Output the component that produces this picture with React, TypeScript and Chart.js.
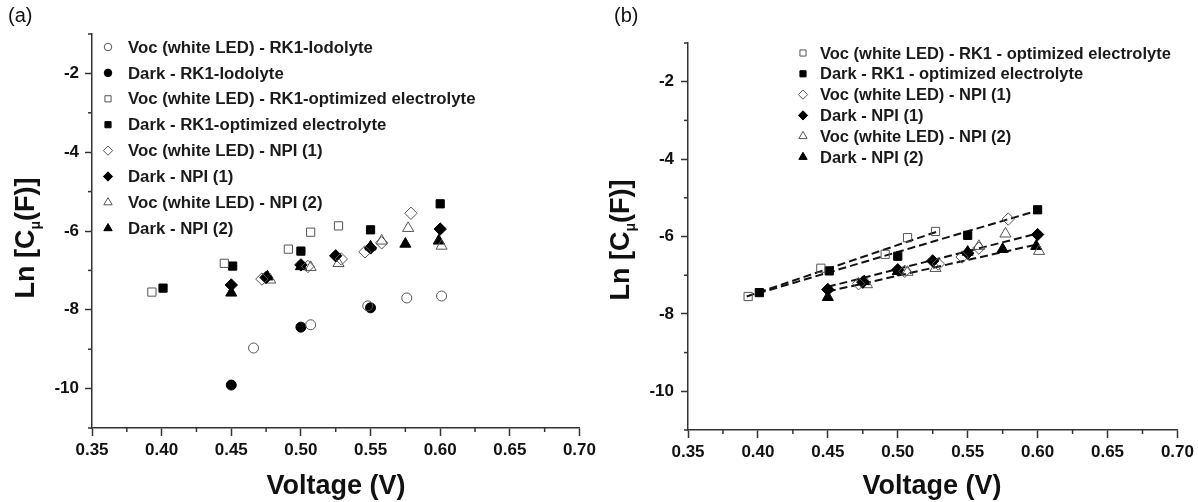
import React, { useEffect, useRef } from "react";
import { Chart, registerables } from "chart.js";

Chart.register(...registerables);

// ---------- tick values ----------
const xTickValues = [0.35, 0.4, 0.45, 0.5, 0.55, 0.6, 0.65, 0.7];
const xMinorTickValues = [0.375, 0.425, 0.475, 0.525, 0.575, 0.625, 0.675];
const yTickValues = [-2, -4, -6, -8, -10];
const yMinorTickValues = [-1, -3, -5, -7, -9, -11];

// ---------- series data ----------
const vocIodolyteX = [0.466, 0.507, 0.548, 0.576, 0.601];
const vocIodolyteY = [-8.97, -8.38, -7.9, -7.7, -7.65];

const darkIodolyteX = [0.45, 0.5, 0.55];
const darkIodolyteY = [-9.91, -8.44, -7.95];

const vocOptX = [0.393, 0.445, 0.491, 0.507, 0.527];
const vocOptY = [-7.55, -6.82, -6.46, -6.03, -5.87];

const darkOptX = [0.401, 0.451, 0.5, 0.55, 0.6];
const darkOptY = [-7.45, -6.89, -6.51, -5.97, -5.31];

const vocNpi1X = [0.472, 0.505, 0.529, 0.546, 0.558, 0.579];
const vocNpi1Y = [-7.22, -6.9, -6.71, -6.53, -6.3, -5.55];

const darkNpi1X = [0.45, 0.475, 0.5, 0.525, 0.55, 0.6];
const darkNpi1Y = [-7.37, -7.18, -6.86, -6.63, -6.43, -5.95];

const vocNpi2X = [0.478, 0.507, 0.527, 0.558, 0.577, 0.601];
const vocNpi2Y = [-7.24, -6.92, -6.82, -6.25, -5.93, -6.38];

const darkNpi2X = [0.45, 0.476, 0.5, 0.55, 0.575, 0.599];
const darkNpi2Y = [-7.57, -7.16, -6.9, -6.4, -6.33, -6.25];

// dashed fit lines in panel (b): end points
const fitVocOptX = [0.392, 0.53];
const fitVocOptY = [-7.55, -5.85];
const fitDarkOptX = [0.4, 0.6];
const fitDarkOptY = [-7.47, -5.33];
const fitNpi1X = [0.45, 0.6];
const fitNpi1Y = [-7.3, -5.92];
const fitNpi2X = [0.45, 0.6];
const fitNpi2Y = [-7.42, -6.2];

// ---------- labels ----------
const labelsA = [
  "Voc (white LED) - RK1-Iodolyte",
  "Dark - RK1-Iodolyte",
  "Voc (white LED) - RK1-optimized electrolyte",
  "Dark - RK1-optimized electrolyte",
  "Voc (white LED) - NPI (1)",
  "Dark - NPI (1)",
  "Voc (white LED) - NPI (2)",
  "Dark - NPI (2)",
];
const labelsB = [
  "Voc (white LED) - RK1 - optimized electrolyte",
  "Dark - RK1 - optimized electrolyte",
  "Voc (white LED) - NPI (1)",
  "Dark - NPI (1)",
  "Voc (white LED) - NPI (2)",
  "Dark - NPI (2)",
];

type Shape = "circle" | "rect" | "rectRot" | "triangle";
type SeriesDef = { label: string; xs: number[]; ys: number[]; shape: Shape; filled: boolean };

const OPEN_COLOR = "#555555";
const FILL_COLOR = "#000000";
const TEXT_COLOR = "#111111";
const AXIS_COLOR = "#333333";
const FONT = "'Liberation Sans', Arial, sans-serif";

const radiusFor = (shape: Shape) =>
  shape === "circle" ? 5 : shape === "rect" ? 5.8 : shape === "rectRot" ? 6.2 : 6.4;

function toPoints(xs: number[], ys: number[]) {
  return xs.map((x, i) => ({ x, y: ys[i] }));
}

function drawMarker(ctx: CanvasRenderingContext2D, shape: Shape, filled: boolean, x: number, y: number, r: number) {
  ctx.save();
  ctx.beginPath();
  if (shape === "circle") {
    ctx.arc(x, y, r, 0, Math.PI * 2);
  } else if (shape === "rect") {
    const s = r * Math.SQRT1_2;
    ctx.rect(x - s, y - s, 2 * s, 2 * s);
  } else if (shape === "rectRot") {
    ctx.moveTo(x, y - r);
    ctx.lineTo(x + r, y);
    ctx.lineTo(x, y + r);
    ctx.lineTo(x - r, y);
    ctx.closePath();
  } else {
    const h = r * Math.sqrt(3) / 2;
    ctx.moveTo(x, y - r);
    ctx.lineTo(x + h, y + r / 2);
    ctx.lineTo(x - h, y + r / 2);
    ctx.closePath();
  }
  if (filled) {
    ctx.fillStyle = FILL_COLOR;
    ctx.fill();
  }
  ctx.lineWidth = 1;
  ctx.strokeStyle = filled ? FILL_COLOR : OPEN_COLOR;
  ctx.stroke();
  ctx.restore();
}

type PanelCfg = {
  series: SeriesDef[];
  fits: { xs: number[]; ys: number[] }[];
  yAxisWidth: number;
  xAxisHeight: number;
  padTop: number;
  padRight: number;
  yTickPad: number;
  legendMarkerX: number;
  legendTextX: number;
  legendY0: number;
  legendDy: number;
  legendFont: number;
  legendMarkerScale: number;
  xTitleX: number;
  xTitleY: number;
  yTitleX: number;
  yTitleY: number;
  panelLabel: string;
  panelLabelX: number;
  panelLabelY: number;
};

function makeChart(canvas: HTMLCanvasElement, cfg: PanelCfg) {
  const datasets: any[] = cfg.series.map((s) => ({
    label: s.label,
    data: toPoints(s.xs, s.ys),
    showLine: false,
    pointStyle: s.shape,
    pointRadius: radiusFor(s.shape),
    pointHoverRadius: radiusFor(s.shape),
    pointBorderWidth: 1,
    pointBackgroundColor: s.filled ? FILL_COLOR : "rgba(0,0,0,0)",
    pointBorderColor: s.filled ? FILL_COLOR : OPEN_COLOR,
    order: 1,
  }));
  cfg.fits.forEach((f, i) => {
    datasets.push({
      label: "fit" + i,
      data: toPoints(f.xs, f.ys),
      showLine: true,
      pointRadius: 0,
      borderColor: "#111111",
      borderWidth: 2,
      borderDash: [8, 4],
      fill: false,
      order: 2,
    });
  });

  const decorPlugin = {
    id: "decor",
    afterDraw(chart: any) {
      const ctx: CanvasRenderingContext2D = chart.ctx;
      const xs = chart.scales.x;
      const ys = chart.scales.y;
      const area = chart.chartArea;
      ctx.save();
      // minor ticks
      ctx.strokeStyle = AXIS_COLOR;
      ctx.lineWidth = 1.5;
      xMinorTickValues.forEach((v) => {
        const px = xs.getPixelForValue(v);
        ctx.beginPath();
        ctx.moveTo(px, area.bottom);
        ctx.lineTo(px, area.bottom + 4);
        ctx.stroke();
      });
      yMinorTickValues.forEach((v) => {
        const py = ys.getPixelForValue(v);
        ctx.beginPath();
        ctx.moveTo(area.left, py);
        ctx.lineTo(area.left - 4, py);
        ctx.stroke();
      });
      // legend
      ctx.font = `bold ${cfg.legendFont}px ${FONT}`;
      ctx.textBaseline = "middle";
      ctx.textAlign = "left";
      cfg.series.forEach((s, i) => {
        const y = cfg.legendY0 + i * cfg.legendDy;
        drawMarker(ctx, s.shape, s.filled, cfg.legendMarkerX, y, radiusFor(s.shape) * cfg.legendMarkerScale);
        ctx.fillStyle = "#1a1a1a";
        ctx.fillText(s.label, cfg.legendTextX, y + 1);
      });
      // x title
      ctx.font = `bold 27px ${FONT}`;
      ctx.textAlign = "center";
      ctx.fillStyle = TEXT_COLOR;
      ctx.fillText("Voltage (V)", cfg.xTitleX, cfg.xTitleY);
      // y title: Ln [C μ (F)]
      ctx.translate(cfg.yTitleX, cfg.yTitleY);
      ctx.rotate(-Math.PI / 2);
      const big = `bold 27px ${FONT}`;
      const small = `bold 14px ${FONT}`;
      const p1 = "Ln [C";
      const p2 = "\u03bc";
      const p3 = "(F)]";
      ctx.font = big;
      const w1 = ctx.measureText(p1).width;
      const w3 = ctx.measureText(p3).width;
      ctx.font = small;
      const w2 = ctx.measureText(p2).width;
      const total = w1 + w2 + w3;
      let cx = -total / 2;
      ctx.textAlign = "left";
      ctx.font = big;
      ctx.fillText(p1, cx, 0);
      cx += w1;
      ctx.font = small;
      ctx.fillText(p2, cx, 9);
      cx += w2;
      ctx.font = big;
      ctx.fillText(p3, cx, 0);
      ctx.restore();
      // panel label
      ctx.save();
      ctx.font = `20px ${FONT}`;
      ctx.fillStyle = "#111";
      ctx.textBaseline = "middle";
      ctx.textAlign = "left";
      ctx.fillText(cfg.panelLabel, cfg.panelLabelX, cfg.panelLabelY);
      ctx.restore();
    },
  };

  return new Chart(canvas, {
    type: "scatter",
    data: { datasets },
    options: {
      animation: false,
      responsive: false,
      maintainAspectRatio: false,
      events: [],
      layout: { padding: { top: cfg.padTop, right: cfg.padRight, left: 0, bottom: 0 } },
      plugins: { legend: { display: false }, tooltip: { enabled: false }, title: { display: false } },
      scales: {
        x: {
          type: "linear",
          min: 0.35,
          max: 0.7,
          afterBuildTicks: (scale: any) => {
            scale.ticks = xTickValues.map((v) => ({ value: v }));
          },
          afterFit: (scale: any) => {
            scale.height = cfg.xAxisHeight;
          },
          ticks: {
            autoSkip: false,
            maxRotation: 0,
            padding: 4,
            color: TEXT_COLOR,
            font: { family: FONT, size: 17, weight: "bold" },
            callback: (v: any) => Number(v).toFixed(2),
          },
          grid: { display: true, drawOnChartArea: false, drawTicks: true, tickLength: 8, tickColor: AXIS_COLOR, tickWidth: 1.5 },
          border: { display: true, color: AXIS_COLOR, width: 1.5 },
        },
        y: {
          type: "linear",
          min: -11,
          max: -1,
          afterBuildTicks: (scale: any) => {
            scale.ticks = yTickValues.map((v) => ({ value: v }));
          },
          afterFit: (scale: any) => {
            scale.width = cfg.yAxisWidth;
          },
          ticks: {
            autoSkip: false,
            padding: cfg.yTickPad,
            color: TEXT_COLOR,
            font: { family: FONT, size: 17, weight: "bold" },
            callback: (v: any) => String(v),
          },
          grid: { display: true, drawOnChartArea: false, drawTicks: true, tickLength: 7, tickColor: AXIS_COLOR, tickWidth: 1.5 },
          border: { display: true, color: AXIS_COLOR, width: 1.5 },
        },
      },
    } as any,
    plugins: [decorPlugin],
  });
}

const seriesA: SeriesDef[] = [
  { label: labelsA[0], xs: vocIodolyteX, ys: vocIodolyteY, shape: "circle", filled: false },
  { label: labelsA[1], xs: darkIodolyteX, ys: darkIodolyteY, shape: "circle", filled: true },
  { label: labelsA[2], xs: vocOptX, ys: vocOptY, shape: "rect", filled: false },
  { label: labelsA[3], xs: darkOptX, ys: darkOptY, shape: "rect", filled: true },
  { label: labelsA[4], xs: vocNpi1X, ys: vocNpi1Y, shape: "rectRot", filled: false },
  { label: labelsA[5], xs: darkNpi1X, ys: darkNpi1Y, shape: "rectRot", filled: true },
  { label: labelsA[6], xs: vocNpi2X, ys: vocNpi2Y, shape: "triangle", filled: false },
  { label: labelsA[7], xs: darkNpi2X, ys: darkNpi2Y, shape: "triangle", filled: true },
];

const seriesB: SeriesDef[] = [
  { label: labelsB[0], xs: vocOptX, ys: vocOptY, shape: "rect", filled: false },
  { label: labelsB[1], xs: darkOptX, ys: darkOptY, shape: "rect", filled: true },
  { label: labelsB[2], xs: vocNpi1X, ys: vocNpi1Y, shape: "rectRot", filled: false },
  { label: labelsB[3], xs: darkNpi1X, ys: darkNpi1Y, shape: "rectRot", filled: true },
  { label: labelsB[4], xs: vocNpi2X, ys: vocNpi2Y, shape: "triangle", filled: false },
  { label: labelsB[5], xs: darkNpi2X, ys: darkNpi2Y, shape: "triangle", filled: true },
];

export default function App() {
  const refA = useRef<HTMLCanvasElement | null>(null);
  const refB = useRef<HTMLCanvasElement | null>(null);

  useEffect(() => {
    if (!refA.current || !refB.current) return;
    const a = makeChart(refA.current, {
      series: seriesA,
      fits: [],
      yAxisWidth: 92,
      xAxisHeight: 74,
      padTop: 34,
      padRight: 18,
      yTickPad: 6,
      legendMarkerX: 108,
      legendTextX: 128,
      legendY0: 47,
      legendDy: 25.9,
      legendFont: 16.8,
      legendMarkerScale: 0.75,
      xTitleX: 336,
      xTitleY: 487,
      yTitleX: 27,
      yTitleY: 238,
      panelLabel: "(a)",
      panelLabelX: 8,
      panelLabelY: 16,
    });
    const b = makeChart(refB.current, {
      series: seriesB,
      fits: [
        { xs: fitVocOptX, ys: fitVocOptY },
        { xs: fitDarkOptX, ys: fitDarkOptY },
        { xs: fitNpi1X, ys: fitNpi1Y },
        { xs: fitNpi2X, ys: fitNpi2Y },
      ],
      yAxisWidth: 88,
      xAxisHeight: 72,
      padTop: 43,
      padRight: 20,
      yTickPad: 7,
      legendMarkerX: 203,
      legendTextX: 220,
      legendY0: 53,
      legendDy: 20.8,
      legendFont: 16.5,
      legendMarkerScale: 0.75,
      xTitleX: 332,
      xTitleY: 487,
      yTitleX: 22,
      yTitleY: 240,
      panelLabel: "(b)",
      panelLabelX: 14,
      panelLabelY: 16,
    });
    return () => {
      a.destroy();
      b.destroy();
    };
  }, []);

  return (
    <div style={{ position: "fixed", left: 0, top: 0, width: 1198, height: 502, background: "#fff", overflow: "hidden" }}>
      <canvas ref={refA} width={600} height={502} style={{ position: "absolute", left: 0, top: 0, display: "block" }} />
      <canvas ref={refB} width={598} height={502} style={{ position: "absolute", left: 600, top: 0, display: "block" }} />
    </div>
  );
}
